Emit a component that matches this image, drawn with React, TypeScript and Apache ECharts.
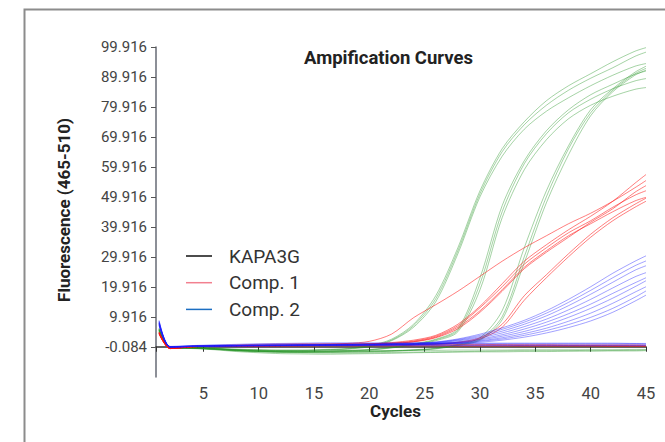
import React, { useEffect, useRef } from "react";
import * as echarts from "echarts";

// Sampled cycles (x) shared by every curve
const CYCLES = [1, 2, 4, 6, 8, 10, 12, 14, 16, 18, 20, 22, 24, 26, 28, 30, 32, 34, 36, 38, 40, 42, 44, 45];

const Y_TICKS = [-0.084, 9.916, 19.916, 29.916, 39.916, 49.916, 59.916, 69.916, 79.916, 89.916, 99.916];
const X_TICKS = [5, 10, 15, 20, 25, 30, 35, 40, 45];

const TITLE = "Ampification Curves";
const Y_NAME = "Fluorescence (465-510)";
const X_NAME = "Cycles";

const LEGEND_NAMES = ["KAPA3G", "Comp. 1", "Comp. 2"];
const LEGEND_COLORS = ["#111111", "#f2808f", "#1b6ec2"];

// Green amplification curves
const GREEN_CURVES = [
  [6.2, -0.2, -0.3, -0.5, -0.8, -1.0, -1.1, -1.1, -0.9, -0.6, 0.4, 2.5, 7.5, 17, 33, 52, 66, 75, 82, 87, 91, 95, 98.5, 99.7],
  [5.8, -0.3, -0.3, -0.6, -0.9, -1.1, -1.2, -1.2, -1.0, -0.7, 0.2, 2.2, 7, 16, 32, 51, 65, 74, 80.5, 85.5, 89.5, 93, 96.8, 98.2],
  [6.0, -0.2, -0.4, -0.6, -1.0, -1.2, -1.3, -1.3, -1.1, -0.8, 0.0, 2.0, 6.5, 15, 31, 50, 63.5, 72.5, 78.5, 83, 87, 90.5, 93.5, 94.4],
  [5.6, -0.3, -0.4, -0.7, -1.1, -1.4, -1.5, -1.5, -1.4, -1.2, -0.9, -0.2, 1.0, 2.5, 6, 23, 47, 62, 72, 79, 84, 87.5, 90.8, 91.9],
  [5.5, -0.3, -0.4, -0.7, -1.2, -1.5, -1.6, -1.6, -1.5, -1.3, -1.0, -0.3, 0.8, 2.3, 5.5, 21, 45, 61, 71, 78, 82.5, 86, 88.6, 89.4],
  [5.3, -0.4, -0.5, -0.8, -1.2, -1.5, -1.7, -1.7, -1.6, -1.4, -1.1, -0.4, 0.6, 2.0, 5.0, 19, 43, 59, 69, 76, 80.5, 83.5, 85.8, 86.4],
  [5.9, -0.2, -0.4, -0.7, -1.1, -1.4, -1.6, -1.7, -1.7, -1.6, -1.5, -1.3, -1.0, -0.5, 0.8, 3, 12, 33, 52, 67, 79, 86, 91.5, 93.5],
  [5.7, -0.3, -0.4, -0.8, -1.2, -1.5, -1.7, -1.8, -1.8, -1.7, -1.6, -1.4, -1.1, -0.6, 0.6, 2.5, 10, 30, 50, 66, 78, 85.5, 91, 92.8],
  [5.5, -0.3, -0.5, -0.8, -1.3, -1.6, -1.8, -1.9, -1.9, -1.8, -1.7, -1.5, -1.2, -0.7, 0.4, 2.2, 9, 28, 48, 64, 77, 85, 90.5, 92.2],
  [5.2, -0.3, -0.5, -0.9, -1.4, -1.7, -1.9, -2.0, -2.1, -2.1, -2.0, -1.9, -1.8, -1.7, -1.6, -1.5, -1.4, -1.3, -1.3, -1.3, -1.2, -1.2, -1.2, -1.1],
  [5.0, -0.4, -0.6, -1.0, -1.6, -2.0, -2.3, -2.4, -2.5, -2.4, -2.3, -2.2, -2.0, -1.9, -1.8, -1.7, -1.7, -1.6, -1.6, -1.5, -1.5, -1.4, -1.4, -1.3],
  [5.4, -0.3, -0.4, -0.7, -1.0, -1.2, -1.3, -1.4, -1.4, -1.4, -1.3, -1.3, -1.2, -1.2, -1.1, -1.1, -1.1, -1.0, -1.0, -1.0, -1.0, -1.0, -0.9, -0.9],
];

// Red amplification curves
const RED_CURVES = [
  [4.8, -0.6, 0.0, 0.2, 0.3, 0.4, 0.5, 0.6, 0.8, 1.1, 1.8, 4.2, 9.7, 14, 18.5, 23.5, 28.5, 33, 37, 41, 44.5, 48.5, 53, 55.4],
  [4.5, -0.6, 0.0, 0.2, 0.3, 0.4, 0.5, 0.6, 0.7, 0.8, 1.0, 1.4, 2.2, 3.8, 7.5, 13.5, 21, 28.5, 34, 39, 43.5, 48.5, 54.5, 57.4],
  [4.6, -0.5, 0.1, 0.2, 0.3, 0.4, 0.5, 0.5, 0.6, 0.7, 0.9, 1.2, 1.9, 3.5, 7, 13, 20, 27.5, 33, 38, 42, 46.5, 50.5, 52],
  [4.4, -0.6, 0.0, 0.1, 0.2, 0.3, 0.4, 0.5, 0.6, 0.7, 0.8, 1.1, 1.7, 3.2, 6.5, 12, 19, 26.5, 32, 37, 41, 45, 48.6, 49.8],
  [4.7, -0.5, 0.1, 0.2, 0.3, 0.4, 0.4, 0.5, 0.6, 0.7, 0.8, 1.0, 1.6, 3.0, 6, 11.5, 18.5, 26, 31.5, 36.5, 41.5, 46, 51.5, 53.7],
  [4.3, -0.6, 0.0, 0.1, 0.2, 0.3, 0.3, 0.4, 0.5, 0.5, 0.6, 0.7, 0.8, 1.0, 1.5, 3, 7.5, 17, 24, 31, 37.5, 43, 47.5, 49.5],
  [4.5, -0.5, 0.0, 0.1, 0.2, 0.2, 0.3, 0.3, 0.4, 0.4, 0.5, 0.6, 0.7, 0.9, 1.3, 2.6, 6.5, 15.5, 23, 30, 36.5, 42, 46.5, 48.5],
  [4.6, -0.5, 0.1, 0.2, 0.3, 0.4, 0.4, 0.5, 0.5, 0.5, 0.5, 0.5, 0.5, 0.5, 0.5, 0.5, 0.5, 0.4, 0.4, 0.4, 0.4, 0.4, 0.4, 0.3],
  [4.2, -0.6, 0.0, 0.1, 0.2, 0.2, 0.3, 0.3, 0.3, 0.3, 0.3, 0.3, 0.3, 0.3, 0.2, 0.2, 0.2, 0.2, 0.2, 0.2, 0.2, 0.1, 0.1, 0.1],
  [4.9, -0.4, 0.2, 0.4, 0.6, 0.8, 0.9, 1.0, 1.0, 1.0, 1.0, 0.9, 0.9, 0.8, 0.8, 0.8, 0.7, 0.7, 0.7, 0.6, 0.6, 0.6, 0.6, 0.5],
];

// Blue amplification curves
const BLUE_CURVES = [
  [8.4, 0.0, 0.2, 0.3, 0.4, 0.5, 0.6, 0.6, 0.7, 0.8, 0.9, 1.0, 1.2, 1.6, 2.6, 4.2, 6.3, 8.8, 12, 15.8, 20, 24.5, 28.5, 30.3],
  [8.0, 0.0, 0.2, 0.3, 0.4, 0.5, 0.5, 0.6, 0.7, 0.8, 0.8, 0.9, 1.1, 1.5, 2.4, 3.8, 5.8, 8.2, 11.2, 14.8, 18.8, 23, 27, 28.6],
  [7.6, -0.1, 0.2, 0.3, 0.4, 0.4, 0.5, 0.6, 0.6, 0.7, 0.8, 0.9, 1.0, 1.4, 2.2, 3.4, 5.2, 7.5, 10.3, 13.7, 17.5, 21.5, 25.5, 27],
  [8.2, 0.0, 0.1, 0.2, 0.3, 0.4, 0.5, 0.5, 0.6, 0.6, 0.7, 0.8, 0.9, 1.3, 2.0, 3.0, 4.6, 6.7, 9.2, 12.3, 15.8, 19.6, 23.3, 24.7],
  [7.8, -0.1, 0.1, 0.2, 0.3, 0.4, 0.4, 0.5, 0.5, 0.6, 0.7, 0.7, 0.8, 1.1, 1.7, 2.6, 4.0, 5.9, 8.2, 11, 14.2, 17.8, 21.3, 23],
  [7.4, -0.1, 0.1, 0.2, 0.3, 0.3, 0.4, 0.4, 0.5, 0.5, 0.6, 0.7, 0.8, 1.0, 1.5, 2.3, 3.5, 5.1, 7.2, 9.8, 12.8, 16.2, 20, 22],
  [8.6, 0.1, 0.2, 0.3, 0.4, 0.5, 0.5, 0.6, 0.6, 0.7, 0.7, 0.8, 0.9, 1.0, 1.4, 2.0, 3.0, 4.4, 6.2, 8.5, 11.2, 14.5, 18.2, 20],
  [7.2, -0.2, 0.1, 0.2, 0.2, 0.3, 0.3, 0.4, 0.4, 0.5, 0.5, 0.6, 0.7, 0.9, 1.2, 1.8, 2.6, 3.8, 5.4, 7.4, 9.8, 12.8, 16.5, 18.6],
  [7.9, 0.0, 0.1, 0.2, 0.3, 0.3, 0.4, 0.4, 0.5, 0.5, 0.6, 0.6, 0.7, 0.8, 1.1, 1.5, 2.2, 3.2, 4.6, 6.4, 8.6, 11.5, 15.2, 17.2],
  [8.0, 0.0, 0.3, 0.5, 0.6, 0.7, 0.8, 0.8, 0.9, 0.9, 0.9, 1.0, 1.0, 1.0, 1.0, 1.0, 1.0, 1.0, 1.0, 1.0, 1.0, 1.0, 1.0, 0.9],
  [7.5, -0.1, 0.2, 0.3, 0.4, 0.5, 0.5, 0.6, 0.6, 0.6, 0.6, 0.6, 0.6, 0.6, 0.6, 0.6, 0.6, 0.6, 0.6, 0.6, 0.6, 0.6, 0.6, 0.6],
  [8.8, 0.1, 0.4, 0.6, 0.8, 1.0, 1.1, 1.2, 1.3, 1.3, 1.3, 1.3, 1.3, 1.3, 1.3, 1.2, 1.2, 1.2, 1.2, 1.2, 1.2, 1.2, 1.1, 1.1],
  [7.0, -0.2, 0.1, 0.2, 0.3, 0.4, 0.4, 0.4, 0.4, 0.4, 0.4, 0.4, 0.4, 0.4, 0.4, 0.4, 0.4, 0.4, 0.4, 0.4, 0.4, 0.4, 0.4, 0.4],
];

const FONT = "Roboto, 'Noto Sans', sans-serif";

function curveSeries(curves: number[][], color: string, prefix: string) {
  return curves.map((vals, k) => ({
    name: `${prefix} ${k + 1}`,
    type: "line",
    data: CYCLES.map((c, i) => [c, vals[i]]),
    showSymbol: false,
    symbol: "none",
    smooth: 0.3,
    silent: true,
    lineStyle: { color, width: 1 },
    z: 2,
  }));
}

export default function App() {
  const ref = useRef<HTMLDivElement>(null);

  useEffect(() => {
    document.body.style.margin = "0";
    if (!ref.current) return;
    const chart = echarts.init(ref.current, undefined, { renderer: "svg" });

    const legendGraphics: any[] = [];
    LEGEND_NAMES.forEach((name, i) => {
      const y = 256 + i * 26.7;
      legendGraphics.push({
        type: "line",
        shape: { x1: 186, y1: y, x2: 212, y2: y },
        style: { stroke: LEGEND_COLORS[i], lineWidth: 1.5 },
      });
      legendGraphics.push({
        type: "text",
        x: 229,
        y: y,
        style: {
          text: name,
          fontSize: 19,
          fontFamily: FONT,
          fill: "#333",
          verticalAlign: "middle",
          align: "left",
        },
      });
    });

    const option: any = {
      animation: false,
      backgroundColor: "#ffffff",
      title: {
        text: TITLE,
        left: 299,
        top: 43,
        textStyle: { fontSize: 18.5, fontWeight: "bold", fontFamily: FONT, color: "#222" },
      },
      grid: { left: 156, right: 19, top: 47, bottom: 65, containLabel: false },
      xAxis: {
        type: "value",
        min: 0.72,
        max: 45,
        axisLine: { show: true, lineStyle: { color: "#333", width: 1.5 } },
        axisTick: { show: true, length: 5, customValues: [0.72, ...X_TICKS], lineStyle: { color: "#333" } },
        axisLabel: {
          customValues: X_TICKS,
          fontSize: 16.5,
          fontFamily: FONT,
          color: "#444",
          margin: 8,
        },
        splitLine: { show: false },
      },
      yAxis: {
        type: "value",
        min: -10.084,
        max: 99.916,
        axisLine: { show: true, lineStyle: { color: "#666a75", width: 1.5 } },
        axisTick: { show: true, length: 5, customValues: Y_TICKS, lineStyle: { color: "#555" } },
        axisLabel: {
          customValues: Y_TICKS,
          formatter: (v: number) => v.toFixed(3),
          fontSize: 15,
          fontFamily: FONT,
          color: "#444",
          margin: 9,
        },
        splitLine: { show: false },
      },
      graphic: [
        {
          type: "rect",
          shape: { x: 24.5, y: 9.5, width: 700, height: 500 },
          style: { fill: "none", stroke: "#8c8c8c", lineWidth: 2 },
          silent: true,
        },
        {
          type: "text",
          x: 63.5,
          y: 210,
          rotation: Math.PI / 2,
          style: {
            text: Y_NAME,
            fontSize: 17,
            fontWeight: "bold",
            fontFamily: FONT,
            fill: "#222",
            align: "center",
            verticalAlign: "middle",
          },
        },
        {
          type: "text",
          x: 395.5,
          y: 411,
          style: {
            text: X_NAME,
            fontSize: 17,
            fontWeight: "bold",
            fontFamily: FONT,
            fill: "#222",
            align: "center",
            verticalAlign: "middle",
          },
        },
        ...legendGraphics,
      ],
      series: [
        ...curveSeries(GREEN_CURVES, "rgba(40,150,40,0.42)", "KAPA3G"),
        ...curveSeries(RED_CURVES, "rgba(255,20,20,0.55)", "Comp. 1"),
        ...curveSeries(BLUE_CURVES, "rgba(30,30,255,0.42)", "Comp. 2"),
      ],
    };

    chart.setOption(option);
    return () => chart.dispose();
  }, []);

  return <div ref={ref} style={{ width: 665, height: 442 }} />;
}
